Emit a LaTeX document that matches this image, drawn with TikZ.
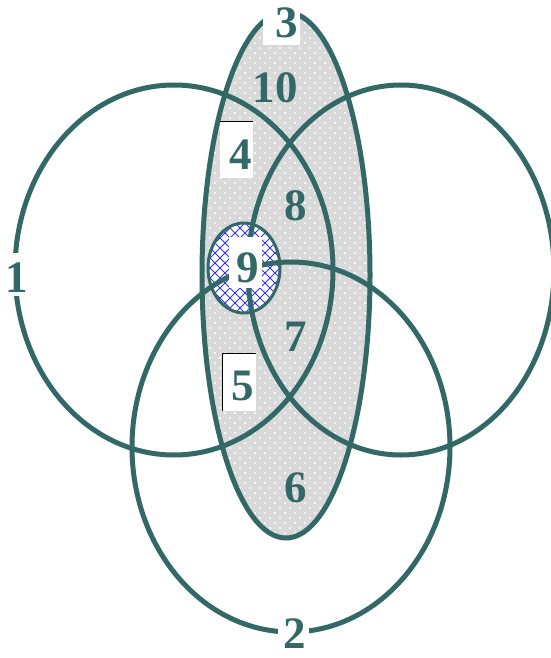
\documentclass[tikz,border=0pt]{standalone}
\usepackage{fontspec}
\setmainfont{Liberation Serif}
\usetikzlibrary{patterns.meta}
\definecolor{tealline}{RGB}{50,104,102}
\tikzdeclarepattern{
  name=whitedots,
  type=uncolored,
  bottom left={(-1pt,-1pt)},
  top right={(11pt,11pt)},
  tile size={(10pt,10pt)},
  code={
    \fill (0pt,0pt) circle (1.1pt);
    \fill (5pt,5pt) circle (1.1pt);
  }
}
\tikzdeclarepattern{
  name=bluehatch,
  type=uncolored,
  bottom left={(-1pt,-1pt)},
  top right={(11pt,11pt)},
  tile size={(10pt,10pt)},
  code={
    \draw[line width=1pt] (0pt,0pt) -- (10pt,10pt) (0pt,10pt) -- (10pt,0pt);
  }
}
\begin{document}
\begin{tikzpicture}[x=1pt,y=-1pt,
  ring/.style={draw=tealline, line width=5pt},
  lbl/.style={text=tealline, font=\fontsize{45}{45}\selectfont\bfseries,
    inner sep=0pt, text height=31pt, text depth=0pt},
  wbox/.style={fill=white, inner sep=0pt}]
\useasboundingbox[fill=white] (0,0) rectangle (551,658);
% central tall ellipse
\coordinate (cE) at (286,275);
\path[preaction={fill=gray!30}, pattern=whitedots, pattern color=white]
  (cE) ellipse [x radius=84pt, y radius=263pt];
\draw[ring] (cE) ellipse [x radius=84pt, y radius=263pt];
% small ellipse
\coordinate (cS) at (244,268);
\path[preaction={fill=white}, pattern=bluehatch, pattern color=blue!80]
  (cS) ellipse [x radius=36pt, y radius=45pt];
\draw[draw=tealline, line width=3pt] (cS) ellipse [x radius=36pt, y radius=45pt];
% three circles
\coordinate (cL) at (174,270);
\coordinate (cR) at (401,270);
\coordinate (cB) at (291,447);
\draw[ring] (cL) ellipse [x radius=159pt, y radius=185pt];
\draw[ring] (cR) ellipse [x radius=153pt, y radius=185pt];
\draw[ring] (cB) ellipse [x radius=159pt, y radius=185pt];
% boxes
\node[wbox, minimum width=37pt, minimum height=45pt] (b3) at (281.5,22.5) {};
\node[wbox, minimum width=33pt, minimum height=56pt] (b4) at (236.5,150) {};
\draw[black, line width=1pt] (b4.north west) -- (b4.north east);
\node[wbox, minimum width=33pt, minimum height=57pt] (b5) at (239.5,382.5) {};
\draw[black, line width=1pt] (b5.south west) -- (b5.north west) -- (b5.north east);
\node[wbox, minimum width=33pt, minimum height=51pt] (b9) at (245.5,262.5) {};
\node[wbox, minimum width=16pt, minimum height=43pt] (b1) at (17,274) {};
\node[wbox, minimum width=31pt, minimum height=20pt] (b2) at (293,632) {};
% labels
\node[lbl] (n1) at (17,277) {1};
\node[lbl] (n2) at (295,633) {2};
\node[lbl] (n3) at (287,22) {3};
\node[lbl] (n10) at (275,87) {10};
\node[lbl] (n4) at (241,154) {4};
\node[lbl] (n8) at (296,205) {8};
\node[lbl] (n9) at (248,267) {9};
\node[lbl] (n7) at (296,336) {7};
\node[lbl] (n5) at (243,385) {5};
\node[lbl] (n6) at (296,487) {6};
\end{tikzpicture}
\end{document}
